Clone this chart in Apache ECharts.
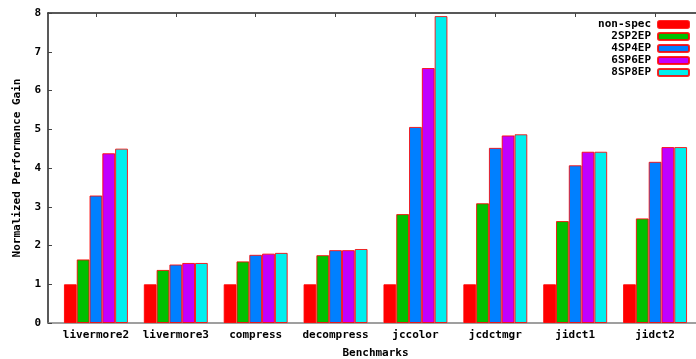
<!DOCTYPE html>
<html>
<head>
<meta charset="utf-8">
<script src="https://cdn.jsdelivr.net/npm/echarts@6/dist/echarts.min.js"></script>
<style>html,body{margin:0;padding:0;background:#fff}#c{width:696px;height:359px}</style>
</head>
<body>
<div id="c"></div>
<script>
const categories = ['livermore2','livermore3','compress','decompress','jccolor','jcdctmgr','jidct1','jidct2'];
const seriesNames = ['non-spec','2SP2EP','4SP4EP','6SP6EP','8SP8EP'];
const nonSpec = [1, 1, 1, 1, 1, 1, 1, 1];
const sp2ep2 = [1.64, 1.37, 1.59, 1.75, 2.81, 3.09, 2.63, 2.70];
const sp4ep4 = [3.29, 1.51, 1.76, 1.88, 5.06, 4.52, 4.07, 4.16];
const sp6ep6 = [4.38, 1.55, 1.79, 1.88, 6.58, 4.84, 4.42, 4.54];
const sp8ep8 = [4.50, 1.55, 1.81, 1.91, 7.92, 4.87, 4.42, 4.54];
const yTicks = [0,1,2,3,4,5,6,7,8];
const colors = ['#ff0000','#00c000','#0080ff','#c000ff','#00eeee'];

const allValues = [nonSpec, sp2ep2, sp4ep4, sp6ep6, sp8ep8];
const catIdx = categories.map((_, i) => i);
const font = 'DejaVu Sans Mono';
const txt = {fontFamily: font, fontWeight: 'bold', fontSize: 11, color: '#000'};

const chart = echarts.init(document.getElementById('c'), null, {renderer: 'canvas'});
chart.setOption({
  animation: false,
  backgroundColor: '#fff',
  color: colors,
  grid: {left: 48, top: 13, width: 655, height: 310, containLabel: false, outerBoundsMode: 'none'},
  legend: {
    orient: 'vertical', right: 6, top: 19, align: 'right', padding: 0,
    itemWidth: 31, itemHeight: 7, itemGap: 1,
    textStyle: Object.assign({}, txt, {padding: [0, 2, 0, 0]}),
    data: seriesNames
  },
  xAxis: [{
    type: 'value', position: 'bottom', min: -0.6, max: 7.6,
    name: 'Benchmarks', nameLocation: 'middle', nameGap: 25, nameTextStyle: txt,
    axisLine: {show: true, onZero: false, lineStyle: {color: '#808080', width: 1.5}},
    axisTick: {show: false},
    splitLine: {show: false},
    axisLabel: Object.assign({}, txt, {
      customValues: catIdx, margin: 7,
      formatter: v => categories[Math.round(v)] || ''
    })
  }, {
    type: 'value', position: 'top', min: -0.6, max: 7.6,
    axisLine: {show: true, onZero: false, lineStyle: {color: '#222', width: 1.5}},
    axisTick: {show: true, inside: true, length: 4, customValues: catIdx, lineStyle: {color: '#444'}},
    axisLabel: {show: false},
    splitLine: {show: false}
  }],
  yAxis: {
    type: 'value', min: 0, max: 8, interval: 1, position: 'left',
    name: 'Normalized Performance Gain', nameLocation: 'middle', nameGap: 25, nameTextStyle: txt,
    axisLine: {show: true, onZero: false, lineStyle: {color: '#222', width: 1.5}},
    axisTick: {show: true, inside: true, length: 4, lineStyle: {color: '#444'}},
    splitLine: {show: false},
    axisLabel: Object.assign({}, txt, {margin: 7, customValues: yTicks})
  },
  series: seriesNames.map((name, s) => ({
    name: name, type: 'bar', xAxisIndex: 0,
    barWidth: 12.8, barGap: '0%',
    itemStyle: {color: colors[s], borderColor: 'rgba(255,0,0,0.85)', borderWidth: 1},
    data: allValues[s].map((v, i) => [i, v])
  }))
});
</script>
</body>
</html>
